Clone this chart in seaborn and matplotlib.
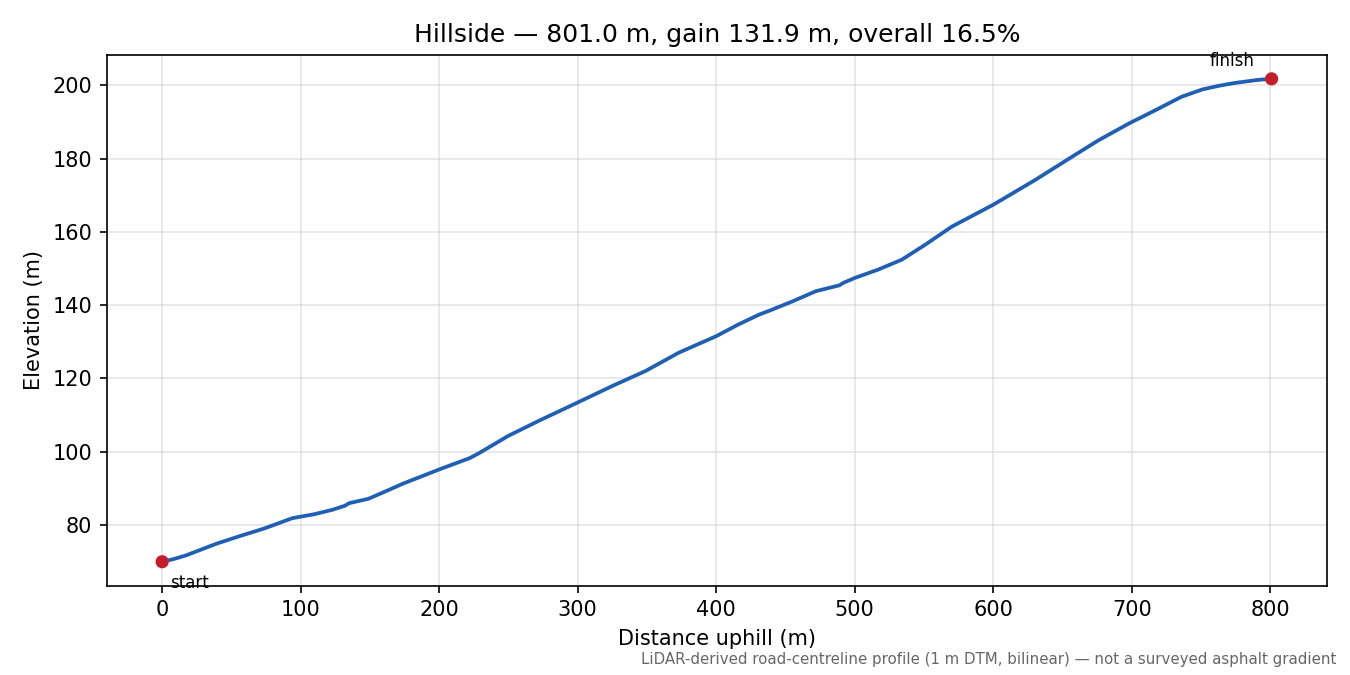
import numpy as np
import pandas as pd
import matplotlib
matplotlib.use("Agg")
import matplotlib.pyplot as plt
import seaborn as sns

# profile
distance = [0, 8, 17, 28, 39, 56, 73, 76, 94, 110, 123, 132, 135, 149, 152,
            169, 173, 200, 222, 229, 250, 272, 300, 325, 349, 373, 400, 416,
            431, 438, 455, 472, 489, 492, 500, 517, 534, 551, 570, 585, 600,
            630, 659, 676, 698, 717, 736, 751, 763, 775, 791, 801]
elevation = [69.9, 70.6, 71.6, 73.2, 74.8, 76.9, 78.9, 79.3, 81.8, 82.9, 84.1,
             85.2, 85.9, 87.1, 87.6, 90.4, 91.1, 95.1, 98.2, 99.6, 104.3,
             108.4, 113.4, 117.9, 122.0, 127.0, 131.5, 134.7, 137.4, 138.4,
             141.0, 143.8, 145.4, 146.1, 147.4, 149.7, 152.4, 156.5, 161.4,
             164.4, 167.4, 174.1, 181.0, 185.0, 189.6, 193.2, 196.9, 198.9,
             199.9, 200.7, 201.5, 201.8]

ends_x = [distance[0], distance[-1]]
ends_y = [elevation[0], elevation[-1]]
end_labels = ["start", "finish"]

df = pd.DataFrame({"d": distance, "z": elevation})
ends = pd.DataFrame({"d": ends_x, "z": ends_y})

fig, ax = plt.subplots(figsize=(9, 4.5), dpi=150)
fig.subplots_adjust(left=0.079, right=0.983, top=0.919, bottom=0.132)

sns.lineplot(data=df, x="d", y="z", ax=ax, color="#1f5fb4", linewidth=1.8)
sns.scatterplot(data=ends, x="d", y="z", ax=ax, color="#c41e2a", s=40,
                edgecolor="none", zorder=5)

ax.annotate(end_labels[0], (ends_x[0], ends_y[0]), xytext=(4, -6),
            textcoords="offset points", ha="left", va="top", fontsize=8)
ax.annotate(end_labels[1], (ends_x[1], ends_y[1]), xytext=(-8, 4),
            textcoords="offset points", ha="right", va="bottom", fontsize=8)

ax.grid(True, color="#cccccc", alpha=0.5, linewidth=0.8)
ax.set_axisbelow(True)
ax.set_xlabel("Distance uphill (m)", fontsize=10)
ax.set_ylabel("Elevation (m)", fontsize=10)
gain = ends_y[1] - ends_y[0]
ax.set_title(f"Hillside \u2014 {ends_x[1]:.1f} m, gain {gain:.1f} m, "
             f"overall {gain / ends_x[1] * 100:.1f}%", fontsize=12)

fig.text(0.99, 0.012,
         "LiDAR-derived road-centreline profile (1 m DTM, bilinear) \u2014 "
         "not a surveyed asphalt gradient",
         ha="right", va="bottom", fontsize=7.2, color="#666666")

fig.savefig("out.png", dpi=150)
